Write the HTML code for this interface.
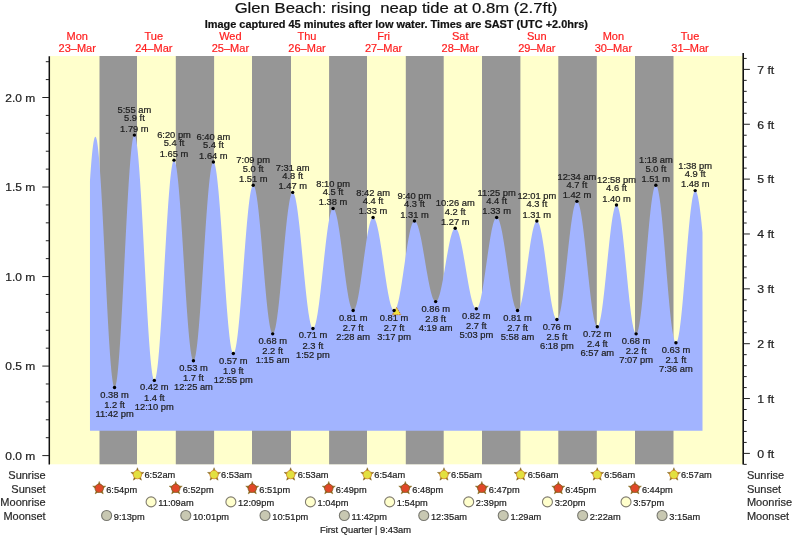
<!DOCTYPE html><html><head><meta charset="utf-8"><style>html,body{margin:0;padding:0;background:#fff;overflow:hidden}svg{display:block;will-change:transform}text{font-family:"Liberation Sans",sans-serif;white-space:pre}</style></head><body>
<svg width="793" height="537" viewBox="0 0 793 537">
<text transform="translate(396.00,13.10) scale(1.113,1)" text-anchor="middle" font-size="15" font-weight="normal" fill="#111" stroke="#111" stroke-width="0.2" >Glen Beach: rising  neap tide at 0.8m (2.7ft)</text>
<text transform="translate(396.30,27.50) scale(1.062,1)" text-anchor="middle" font-size="10.3" font-weight="bold" fill="#111" stroke="#111" stroke-width="0.2" >Image captured 45 minutes after low water. Times are SAST (UTC +2.0hrs)</text>
<text transform="translate(77.20,39.70) scale(1.05,1)" text-anchor="middle" font-size="10.5" font-weight="normal" fill="#FF1E1E" stroke="#FF1E1E" stroke-width="0.2" >Mon</text>
<text transform="translate(77.20,51.50) scale(1.05,1)" text-anchor="middle" font-size="10.5" font-weight="normal" fill="#FF1E1E" stroke="#FF1E1E" stroke-width="0.2" >23–Mar</text>
<text transform="translate(153.80,39.70) scale(1.05,1)" text-anchor="middle" font-size="10.5" font-weight="normal" fill="#FF1E1E" stroke="#FF1E1E" stroke-width="0.2" >Tue</text>
<text transform="translate(153.80,51.50) scale(1.05,1)" text-anchor="middle" font-size="10.5" font-weight="normal" fill="#FF1E1E" stroke="#FF1E1E" stroke-width="0.2" >24–Mar</text>
<text transform="translate(230.40,39.70) scale(1.05,1)" text-anchor="middle" font-size="10.5" font-weight="normal" fill="#FF1E1E" stroke="#FF1E1E" stroke-width="0.2" >Wed</text>
<text transform="translate(230.40,51.50) scale(1.05,1)" text-anchor="middle" font-size="10.5" font-weight="normal" fill="#FF1E1E" stroke="#FF1E1E" stroke-width="0.2" >25–Mar</text>
<text transform="translate(307.00,39.70) scale(1.05,1)" text-anchor="middle" font-size="10.5" font-weight="normal" fill="#FF1E1E" stroke="#FF1E1E" stroke-width="0.2" >Thu</text>
<text transform="translate(307.00,51.50) scale(1.05,1)" text-anchor="middle" font-size="10.5" font-weight="normal" fill="#FF1E1E" stroke="#FF1E1E" stroke-width="0.2" >26–Mar</text>
<text transform="translate(383.60,39.70) scale(1.05,1)" text-anchor="middle" font-size="10.5" font-weight="normal" fill="#FF1E1E" stroke="#FF1E1E" stroke-width="0.2" >Fri</text>
<text transform="translate(383.60,51.50) scale(1.05,1)" text-anchor="middle" font-size="10.5" font-weight="normal" fill="#FF1E1E" stroke="#FF1E1E" stroke-width="0.2" >27–Mar</text>
<text transform="translate(460.20,39.70) scale(1.05,1)" text-anchor="middle" font-size="10.5" font-weight="normal" fill="#FF1E1E" stroke="#FF1E1E" stroke-width="0.2" >Sat</text>
<text transform="translate(460.20,51.50) scale(1.05,1)" text-anchor="middle" font-size="10.5" font-weight="normal" fill="#FF1E1E" stroke="#FF1E1E" stroke-width="0.2" >28–Mar</text>
<text transform="translate(536.80,39.70) scale(1.05,1)" text-anchor="middle" font-size="10.5" font-weight="normal" fill="#FF1E1E" stroke="#FF1E1E" stroke-width="0.2" >Sun</text>
<text transform="translate(536.80,51.50) scale(1.05,1)" text-anchor="middle" font-size="10.5" font-weight="normal" fill="#FF1E1E" stroke="#FF1E1E" stroke-width="0.2" >29–Mar</text>
<text transform="translate(613.40,39.70) scale(1.05,1)" text-anchor="middle" font-size="10.5" font-weight="normal" fill="#FF1E1E" stroke="#FF1E1E" stroke-width="0.2" >Mon</text>
<text transform="translate(613.40,51.50) scale(1.05,1)" text-anchor="middle" font-size="10.5" font-weight="normal" fill="#FF1E1E" stroke="#FF1E1E" stroke-width="0.2" >30–Mar</text>
<text transform="translate(690.00,39.70) scale(1.05,1)" text-anchor="middle" font-size="10.5" font-weight="normal" fill="#FF1E1E" stroke="#FF1E1E" stroke-width="0.2" >Tue</text>
<text transform="translate(690.00,51.50) scale(1.05,1)" text-anchor="middle" font-size="10.5" font-weight="normal" fill="#FF1E1E" stroke="#FF1E1E" stroke-width="0.2" >31–Mar</text>
<rect x="50.0" y="56.0" width="693.0" height="408.3" fill="#FFFFCC"/>
<rect x="99.5" y="56.0" width="37.5" height="408.3" fill="#969696"/>
<rect x="175.8" y="56.0" width="38.3" height="408.3" fill="#969696"/>
<rect x="252.0" y="56.0" width="39.0" height="408.3" fill="#969696"/>
<rect x="329.1" y="56.0" width="37.9" height="408.3" fill="#969696"/>
<rect x="405.8" y="56.0" width="37.9" height="408.3" fill="#969696"/>
<rect x="482.0" y="56.0" width="38.4" height="408.3" fill="#969696"/>
<rect x="558.3" y="56.0" width="38.5" height="408.3" fill="#969696"/>
<rect x="635.0" y="56.0" width="38.5" height="408.3" fill="#969696"/>
<path d="M89.97,430.70 L89.97,180.40 L90.47,173.11 L90.97,166.38 L91.47,160.26 L91.97,154.78 L92.47,149.98 L92.97,145.88 L93.47,142.52 L93.97,139.91 L94.47,138.06 L94.97,137.00 L95.47,136.72 L95.97,137.27 L96.47,138.65 L96.97,140.87 L97.47,143.90 L97.97,147.73 L98.47,152.33 L98.97,157.66 L99.47,163.70 L99.97,170.40 L100.47,177.72 L100.97,185.60 L101.47,194.00 L101.97,202.85 L102.47,212.11 L102.97,221.70 L103.47,231.57 L103.97,241.64 L104.47,251.84 L104.97,262.12 L105.47,272.40 L105.97,282.60 L106.47,292.67 L106.97,302.54 L107.47,312.13 L107.97,321.39 L108.47,330.25 L108.97,338.65 L109.47,346.53 L109.97,353.85 L110.47,360.55 L110.97,366.59 L111.47,371.93 L111.97,376.53 L112.47,380.36 L112.97,383.39 L113.47,385.61 L113.97,387.00 L114.47,387.55 L114.97,387.28 L115.47,386.21 L115.97,384.37 L116.47,381.75 L116.97,378.38 L117.47,374.27 L117.97,369.46 L118.47,363.97 L118.97,357.84 L119.47,351.10 L119.97,343.80 L120.47,335.98 L120.97,327.70 L121.47,319.00 L121.97,309.94 L122.47,300.57 L122.97,290.96 L123.47,281.17 L123.97,271.25 L124.47,261.26 L124.97,251.28 L125.47,241.36 L125.97,231.57 L126.47,221.96 L126.97,212.60 L127.47,203.54 L127.97,194.85 L128.47,186.57 L128.97,178.76 L129.47,171.47 L129.97,164.74 L130.47,158.61 L130.97,153.13 L131.47,148.33 L131.97,144.23 L132.47,140.87 L132.97,138.27 L133.47,136.43 L133.97,135.38 L134.47,135.11 L134.97,135.62 L135.47,136.88 L135.97,138.89 L136.47,141.64 L136.97,145.11 L137.47,149.27 L137.97,154.11 L138.47,159.59 L138.97,165.68 L139.47,172.34 L139.97,179.53 L140.47,187.20 L140.97,195.31 L141.47,203.81 L141.97,212.64 L142.47,221.75 L142.97,231.09 L143.47,240.59 L143.97,250.20 L144.47,259.85 L144.97,269.49 L145.47,279.06 L145.97,288.49 L146.47,297.74 L146.97,306.73 L147.47,315.43 L147.97,323.76 L148.47,331.69 L148.97,339.16 L149.47,346.12 L149.97,352.54 L150.47,358.37 L150.97,363.57 L151.47,368.12 L151.97,371.99 L152.47,375.14 L152.97,377.57 L153.47,379.26 L153.97,380.20 L154.47,380.37 L154.97,379.83 L155.47,378.60 L155.97,376.67 L156.47,374.07 L156.97,370.80 L157.47,366.90 L157.97,362.38 L158.47,357.28 L158.97,351.62 L159.47,345.44 L159.97,338.78 L160.47,331.69 L160.97,324.21 L161.47,316.38 L161.97,308.26 L162.47,299.90 L162.97,291.35 L163.47,282.67 L163.97,273.91 L164.47,265.12 L164.97,256.37 L165.47,247.70 L165.97,239.18 L166.47,230.86 L166.97,222.79 L167.47,215.02 L167.97,207.60 L168.47,200.59 L168.97,194.01 L169.47,187.92 L169.97,182.36 L170.47,177.35 L170.97,172.94 L171.47,169.14 L171.97,165.99 L172.47,163.51 L172.97,161.70 L173.47,160.59 L173.97,160.17 L174.47,160.44 L174.97,161.36 L175.47,162.92 L175.97,165.13 L176.47,167.96 L176.97,171.40 L177.47,175.41 L177.97,179.99 L178.47,185.09 L178.97,190.68 L179.47,196.73 L179.97,203.19 L180.47,210.03 L180.97,217.20 L181.47,224.65 L181.97,232.34 L182.47,240.21 L182.97,248.21 L183.47,256.30 L183.97,264.41 L184.47,272.49 L184.97,280.49 L185.47,288.37 L185.97,296.06 L186.47,303.52 L186.97,310.69 L187.47,317.54 L187.97,324.01 L188.47,330.07 L188.97,335.67 L189.47,340.78 L189.97,345.37 L190.47,349.40 L190.97,352.84 L191.47,355.69 L191.97,357.91 L192.47,359.49 L192.97,360.42 L193.47,360.70 L193.97,360.35 L194.47,359.38 L194.97,357.81 L195.47,355.63 L195.97,352.88 L196.47,349.55 L196.97,345.68 L197.47,341.29 L197.97,336.40 L198.47,331.04 L198.97,325.26 L199.47,319.07 L199.97,312.53 L200.47,305.68 L200.97,298.54 L201.47,291.18 L201.97,283.63 L202.47,275.94 L202.97,268.17 L203.47,260.35 L203.97,252.53 L204.47,244.77 L204.97,237.12 L205.47,229.61 L205.97,222.30 L206.47,215.23 L206.97,208.45 L207.47,202.00 L207.97,195.91 L208.47,190.23 L208.97,184.99 L209.47,180.22 L209.97,175.96 L210.47,172.22 L210.97,169.04 L211.47,166.43 L211.97,164.40 L212.47,162.98 L212.97,162.17 L213.47,161.97 L213.97,162.37 L214.47,163.36 L214.97,164.94 L215.47,167.10 L215.97,169.81 L216.47,173.07 L216.97,176.86 L217.47,181.14 L217.97,185.90 L218.47,191.11 L218.97,196.73 L219.47,202.73 L219.97,209.07 L220.47,215.71 L220.97,222.61 L221.47,229.73 L221.97,237.02 L222.47,244.44 L222.97,251.94 L223.47,259.48 L223.97,267.01 L224.47,274.48 L224.97,281.85 L225.47,289.07 L225.97,296.09 L226.47,302.88 L226.97,309.39 L227.47,315.57 L227.97,321.40 L228.47,326.84 L228.97,331.84 L229.47,336.39 L229.97,340.45 L230.47,343.99 L230.97,347.01 L231.47,349.47 L231.97,351.36 L232.47,352.67 L232.97,353.39 L233.47,353.52 L233.97,353.11 L234.47,352.18 L234.97,350.73 L235.47,348.78 L235.97,346.33 L236.47,343.40 L236.97,340.01 L237.47,336.18 L237.97,331.94 L238.47,327.30 L238.97,322.30 L239.47,316.98 L239.97,311.36 L240.47,305.47 L240.97,299.36 L241.47,293.07 L241.97,286.63 L242.47,280.07 L242.97,273.46 L243.47,266.82 L243.97,260.19 L244.47,253.62 L244.97,247.15 L245.47,240.82 L245.97,234.66 L246.47,228.73 L246.97,223.04 L247.47,217.64 L247.97,212.57 L248.47,207.85 L248.97,203.52 L249.47,199.59 L249.97,196.10 L250.47,193.07 L250.97,190.51 L251.47,188.44 L251.97,186.88 L252.47,185.83 L252.97,185.30 L253.47,185.29 L253.97,185.77 L254.47,186.73 L254.97,188.16 L255.47,190.06 L255.97,192.41 L256.47,195.20 L256.97,198.40 L257.47,202.01 L257.97,205.98 L258.47,210.31 L258.97,214.95 L259.47,219.89 L259.97,225.08 L260.47,230.50 L260.97,236.11 L261.47,241.87 L261.97,247.74 L262.47,253.69 L262.97,259.68 L263.47,265.67 L263.97,271.62 L264.47,277.49 L264.97,283.24 L265.47,288.84 L265.97,294.25 L266.47,299.43 L266.97,304.35 L267.47,308.98 L267.97,313.29 L268.47,317.25 L268.97,320.84 L269.47,324.02 L269.97,326.79 L270.47,329.12 L270.97,330.99 L271.47,332.40 L271.97,333.34 L272.47,333.80 L272.97,333.78 L273.47,333.32 L273.97,332.43 L274.47,331.11 L274.97,329.37 L275.47,327.22 L275.97,324.68 L276.47,321.76 L276.97,318.48 L277.47,314.85 L277.97,310.91 L278.47,306.67 L278.97,302.17 L279.47,297.42 L279.97,292.46 L280.47,287.32 L280.97,282.03 L281.47,276.63 L281.97,271.14 L282.47,265.60 L282.97,260.05 L283.47,254.52 L283.97,249.04 L284.47,243.64 L284.97,238.37 L285.47,233.25 L285.97,228.31 L286.47,223.59 L286.97,219.11 L287.47,214.90 L287.97,210.99 L288.47,207.40 L288.97,204.15 L289.47,201.27 L289.97,198.77 L290.47,196.67 L290.97,194.97 L291.47,193.70 L291.97,192.85 L292.47,192.44 L292.97,192.46 L293.47,192.89 L293.97,193.72 L294.47,194.96 L294.97,196.59 L295.47,198.60 L295.97,200.98 L296.47,203.72 L296.97,206.80 L297.47,210.21 L297.97,213.91 L298.47,217.89 L298.97,222.13 L299.47,226.60 L299.97,231.27 L300.47,236.12 L300.97,241.11 L301.47,246.22 L301.97,251.42 L302.47,256.67 L302.97,261.94 L303.47,267.20 L303.97,272.42 L304.47,277.57 L304.97,282.62 L305.47,287.53 L305.97,292.28 L306.47,296.84 L306.97,301.18 L307.47,305.28 L307.97,309.11 L308.47,312.64 L308.97,315.86 L309.47,318.75 L309.97,321.29 L310.47,323.46 L310.97,325.26 L311.47,326.67 L311.97,327.67 L312.47,328.28 L312.97,328.47 L313.47,328.29 L313.97,327.73 L314.47,326.82 L314.97,325.54 L315.47,323.92 L315.97,321.97 L316.47,319.68 L316.97,317.09 L317.47,314.20 L317.97,311.03 L318.47,307.59 L318.97,303.93 L319.47,300.04 L319.97,295.96 L320.47,291.72 L320.97,287.33 L321.47,282.83 L321.97,278.24 L322.47,273.59 L322.97,268.91 L323.47,264.23 L323.97,259.57 L324.47,254.97 L324.97,250.45 L325.47,246.04 L325.97,241.77 L326.47,237.66 L326.97,233.74 L327.47,230.03 L327.97,226.56 L328.47,223.34 L328.97,220.39 L329.47,217.74 L329.97,215.40 L330.47,213.39 L330.97,211.71 L331.47,210.37 L331.97,209.39 L332.47,208.77 L332.97,208.52 L333.47,208.61 L333.97,209.02 L334.47,209.73 L334.97,210.75 L335.47,212.06 L335.97,213.66 L336.47,215.55 L336.97,217.70 L337.47,220.11 L337.97,222.76 L338.47,225.63 L338.97,228.71 L339.47,231.98 L339.97,235.41 L340.47,238.99 L340.97,242.70 L341.47,246.51 L341.97,250.40 L342.47,254.35 L342.97,258.33 L343.47,262.31 L343.97,266.28 L344.47,270.21 L344.97,274.07 L345.47,277.84 L345.97,281.50 L346.47,285.03 L346.97,288.40 L347.47,291.60 L347.97,294.60 L348.47,297.39 L348.97,299.94 L349.47,302.25 L349.97,304.30 L350.47,306.08 L350.97,307.57 L351.47,308.77 L351.97,309.67 L352.47,310.26 L352.97,310.54 L353.47,310.52 L353.97,310.20 L354.47,309.60 L354.97,308.71 L355.47,307.55 L355.97,306.11 L356.47,304.41 L356.97,302.46 L357.47,300.27 L357.97,297.86 L358.47,295.23 L358.97,292.41 L359.47,289.41 L359.97,286.25 L360.47,282.96 L360.97,279.54 L361.47,276.03 L361.97,272.45 L362.47,268.81 L362.97,265.14 L363.47,261.47 L363.97,257.81 L364.47,254.19 L364.97,250.63 L365.47,247.16 L365.97,243.79 L366.47,240.54 L366.97,237.45 L367.47,234.51 L367.97,231.77 L368.47,229.22 L368.97,226.89 L369.47,224.79 L369.97,222.93 L370.47,221.33 L370.97,220.00 L371.47,218.94 L371.97,218.17 L372.47,217.67 L372.97,217.47 L373.47,217.55 L373.97,217.88 L374.47,218.48 L374.97,219.33 L375.47,220.43 L375.97,221.77 L376.47,223.35 L376.97,225.15 L377.47,227.18 L377.97,229.40 L378.47,231.83 L378.97,234.43 L379.47,237.19 L379.97,240.11 L380.47,243.16 L380.97,246.33 L381.47,249.59 L381.97,252.94 L382.47,256.35 L382.97,259.80 L383.47,263.27 L383.97,266.75 L384.47,270.22 L384.97,273.64 L385.47,277.02 L385.97,280.32 L386.47,283.53 L386.97,286.63 L387.47,289.61 L387.97,292.44 L388.47,295.12 L388.97,297.62 L389.47,299.93 L389.97,302.04 L390.47,303.94 L390.97,305.62 L391.47,307.06 L391.97,308.27 L392.47,309.22 L392.97,309.93 L393.47,310.37 L393.97,310.56 L394.47,310.49 L394.97,310.15 L395.47,309.55 L395.97,308.69 L396.47,307.57 L396.97,306.21 L397.47,304.60 L397.97,302.77 L398.47,300.71 L398.97,298.45 L399.47,295.99 L399.97,293.36 L400.47,290.56 L400.97,287.61 L401.47,284.53 L401.97,281.35 L402.47,278.07 L402.97,274.72 L403.47,271.31 L403.97,267.87 L404.47,264.42 L404.97,260.98 L405.47,257.57 L405.97,254.20 L406.47,250.91 L406.97,247.70 L407.47,244.60 L407.97,241.63 L408.47,238.80 L408.97,236.13 L409.47,233.64 L409.97,231.33 L410.47,229.24 L410.97,227.36 L411.47,225.71 L411.97,224.29 L412.47,223.13 L412.97,222.21 L413.47,221.56 L413.97,221.17 L414.47,221.04 L414.97,221.16 L415.47,221.50 L415.97,222.05 L416.47,222.82 L416.97,223.80 L417.47,224.99 L417.97,226.37 L418.47,227.95 L418.97,229.71 L419.47,231.64 L419.97,233.73 L420.47,235.98 L420.97,238.36 L421.47,240.87 L421.97,243.50 L422.47,246.22 L422.97,249.02 L423.47,251.89 L423.97,254.81 L424.47,257.77 L424.97,260.74 L425.47,263.72 L425.97,266.69 L426.47,269.63 L426.97,272.52 L427.47,275.35 L427.97,278.11 L428.47,280.77 L428.97,283.32 L429.47,285.76 L429.97,288.06 L430.47,290.22 L430.97,292.21 L431.47,294.04 L431.97,295.69 L432.47,297.15 L432.97,298.42 L433.47,299.48 L433.97,300.33 L434.47,300.97 L434.97,301.39 L435.47,301.60 L435.97,301.58 L436.47,301.32 L436.97,300.83 L437.47,300.11 L437.97,299.15 L438.47,297.98 L438.97,296.59 L439.47,295.00 L439.97,293.21 L440.47,291.24 L440.97,289.10 L441.47,286.81 L441.97,284.37 L442.47,281.80 L442.97,279.13 L443.47,276.36 L443.97,273.52 L444.47,270.63 L444.97,267.70 L445.47,264.75 L445.97,261.80 L446.47,258.87 L446.97,255.98 L447.47,253.14 L447.97,250.39 L448.47,247.72 L448.97,245.17 L449.47,242.75 L449.97,240.47 L450.47,238.35 L450.97,236.40 L451.47,234.63 L451.97,233.06 L452.47,231.70 L452.97,230.55 L453.47,229.62 L453.97,228.93 L454.47,228.46 L454.97,228.23 L455.47,228.24 L455.97,228.47 L456.47,228.92 L456.97,229.59 L457.47,230.48 L457.97,231.57 L458.47,232.87 L458.97,234.37 L459.47,236.05 L459.97,237.92 L460.47,239.95 L460.97,242.14 L461.47,244.48 L461.97,246.95 L462.47,249.54 L462.97,252.24 L463.47,255.02 L463.97,257.88 L464.47,260.80 L464.97,263.76 L465.47,266.74 L465.97,269.74 L466.47,272.73 L466.97,275.69 L467.47,278.62 L467.97,281.49 L468.47,284.29 L468.97,287.00 L469.47,289.60 L469.97,292.10 L470.47,294.46 L470.97,296.67 L471.47,298.74 L471.97,300.63 L472.47,302.35 L472.97,303.88 L473.47,305.21 L473.97,306.34 L474.47,307.26 L474.97,307.97 L475.47,308.46 L475.97,308.72 L476.47,308.77 L476.97,308.55 L477.47,308.06 L477.97,307.30 L478.47,306.28 L478.97,305.00 L479.47,303.47 L479.97,301.70 L480.47,299.70 L480.97,297.49 L481.47,295.06 L481.97,292.45 L482.47,289.66 L482.97,286.71 L483.47,283.62 L483.97,280.41 L484.47,277.09 L484.97,273.69 L485.47,270.23 L485.97,266.73 L486.47,263.20 L486.97,259.68 L487.47,256.17 L487.97,252.71 L488.47,249.30 L488.97,245.98 L489.47,242.77 L489.97,239.67 L490.47,236.72 L490.97,233.92 L491.47,231.30 L491.97,228.86 L492.47,226.63 L492.97,224.62 L493.47,222.84 L493.97,221.30 L494.47,220.01 L494.97,218.98 L495.47,218.21 L495.97,217.71 L496.47,217.48 L496.97,217.52 L497.47,217.82 L497.97,218.39 L498.47,219.21 L498.97,220.28 L499.47,221.61 L499.97,223.17 L500.47,224.96 L500.97,226.97 L501.47,229.19 L501.97,231.61 L502.47,234.21 L502.97,236.98 L503.47,239.90 L503.97,242.95 L504.47,246.13 L504.97,249.41 L505.47,252.77 L505.97,256.19 L506.47,259.66 L506.97,263.15 L507.47,266.64 L507.97,270.13 L508.47,273.57 L508.97,276.97 L509.47,280.29 L509.97,283.51 L510.47,286.63 L510.97,289.62 L511.47,292.47 L511.97,295.16 L512.47,297.67 L512.97,299.99 L513.47,302.10 L513.97,304.00 L514.47,305.68 L514.97,307.12 L515.47,308.32 L515.97,309.27 L516.47,309.96 L516.97,310.39 L517.47,310.57 L517.97,310.46 L518.47,310.07 L518.97,309.38 L519.47,308.40 L519.97,307.14 L520.47,305.60 L520.97,303.81 L521.47,301.76 L521.97,299.47 L522.47,296.96 L522.97,294.25 L523.47,291.34 L523.97,288.27 L524.47,285.05 L524.97,281.71 L525.47,278.25 L525.97,274.72 L526.47,271.12 L526.97,267.49 L527.47,263.85 L527.97,260.23 L528.47,256.64 L528.97,253.11 L529.47,249.66 L529.97,246.32 L530.47,243.11 L530.97,240.05 L531.47,237.16 L531.97,234.46 L532.47,231.97 L532.97,229.70 L533.47,227.67 L533.97,225.89 L534.47,224.38 L534.97,223.14 L535.47,222.18 L535.97,221.51 L536.47,221.13 L536.97,221.05 L537.47,221.27 L537.97,221.79 L538.47,222.61 L538.97,223.72 L539.47,225.11 L539.97,226.79 L540.47,228.72 L540.97,230.92 L541.47,233.35 L541.97,236.02 L542.47,238.89 L542.97,241.95 L543.47,245.19 L543.97,248.58 L544.47,252.11 L544.97,255.74 L545.47,259.47 L545.97,263.26 L546.47,267.09 L546.97,270.95 L547.47,274.80 L547.97,278.62 L548.47,282.39 L548.97,286.09 L549.47,289.69 L549.97,293.17 L550.47,296.51 L550.97,299.69 L551.47,302.69 L551.97,305.49 L552.47,308.08 L552.97,310.43 L553.47,312.54 L553.97,314.39 L554.47,315.97 L554.97,317.26 L555.47,318.27 L555.97,318.99 L556.47,319.40 L556.97,319.52 L557.47,319.29 L557.97,318.71 L558.47,317.76 L558.97,316.46 L559.47,314.81 L559.97,312.83 L560.47,310.53 L560.97,307.91 L561.47,305.01 L561.97,301.83 L562.47,298.39 L562.97,294.72 L563.47,290.84 L563.97,286.77 L564.47,282.54 L564.97,278.18 L565.47,273.70 L565.97,269.14 L566.47,264.53 L566.97,259.89 L567.47,255.26 L567.97,250.66 L568.47,246.11 L568.97,241.66 L569.47,237.32 L569.97,233.13 L570.47,229.10 L570.97,225.27 L571.47,221.65 L571.97,218.27 L572.47,215.16 L572.97,212.32 L573.47,209.78 L573.97,207.55 L574.47,205.64 L574.97,204.08 L575.47,202.86 L575.97,201.99 L576.47,201.49 L576.97,201.35 L577.47,201.58 L577.97,202.18 L578.47,203.15 L578.97,204.48 L579.47,206.16 L579.97,208.19 L580.47,210.55 L580.97,213.22 L581.47,216.20 L581.97,219.46 L582.47,222.99 L582.97,226.76 L583.47,230.75 L583.97,234.94 L584.47,239.30 L584.97,243.81 L585.47,248.44 L585.97,253.16 L586.47,257.95 L586.97,262.77 L587.47,267.60 L587.97,272.41 L588.47,277.17 L588.97,281.85 L589.47,286.42 L589.97,290.87 L590.47,295.15 L590.97,299.24 L591.47,303.13 L591.97,306.79 L592.47,310.19 L592.97,313.31 L593.47,316.15 L593.97,318.67 L594.47,320.87 L594.97,322.73 L595.47,324.24 L595.97,325.40 L596.47,326.19 L596.97,326.61 L597.47,326.66 L597.97,326.30 L598.47,325.54 L598.97,324.39 L599.47,322.84 L599.97,320.91 L600.47,318.61 L600.97,315.95 L601.47,312.97 L601.97,309.66 L602.47,306.07 L602.97,302.20 L603.47,298.09 L603.97,293.77 L604.47,289.26 L604.97,284.59 L605.47,279.79 L605.97,274.91 L606.47,269.96 L606.97,264.98 L607.47,260.01 L607.97,255.08 L608.47,250.22 L608.97,245.46 L609.47,240.84 L609.97,236.39 L610.47,232.13 L610.97,228.10 L611.47,224.32 L611.97,220.82 L612.47,217.62 L612.97,214.74 L613.47,212.20 L613.97,210.03 L614.47,208.22 L614.97,206.80 L615.47,205.77 L615.97,205.15 L616.47,204.93 L616.97,205.12 L617.47,205.72 L617.97,206.73 L618.47,208.14 L618.97,209.95 L619.47,212.13 L619.97,214.68 L620.47,217.58 L620.97,220.81 L621.47,224.35 L621.97,228.18 L622.47,232.28 L622.97,236.61 L623.47,241.15 L623.97,245.88 L624.47,250.75 L624.97,255.74 L625.47,260.82 L625.97,265.95 L626.47,271.11 L626.97,276.26 L627.47,281.36 L627.97,286.38 L628.47,291.30 L628.97,296.07 L629.47,300.68 L629.97,305.08 L630.47,309.26 L630.97,313.18 L631.47,316.82 L631.97,320.16 L632.47,323.17 L632.97,325.84 L633.47,328.15 L633.97,330.08 L634.47,331.62 L634.97,332.76 L635.47,333.50 L635.97,333.83 L636.47,333.73 L636.97,333.16 L637.47,332.13 L637.97,330.64 L638.47,328.70 L638.97,326.32 L639.47,323.51 L639.97,320.30 L640.47,316.71 L640.97,312.76 L641.47,308.46 L641.97,303.86 L642.47,298.98 L642.97,293.85 L643.47,288.50 L643.97,282.97 L644.47,277.29 L644.97,271.49 L645.47,265.62 L645.97,259.72 L646.47,253.81 L646.97,247.94 L647.47,242.14 L647.97,236.45 L648.47,230.91 L648.97,225.55 L649.47,220.40 L649.97,215.50 L650.47,210.88 L650.97,206.57 L651.47,202.60 L651.97,198.98 L652.47,195.75 L652.97,192.92 L653.47,190.51 L653.97,188.55 L654.47,187.03 L654.97,185.97 L655.47,185.37 L655.97,185.25 L656.47,185.60 L656.97,186.43 L657.47,187.74 L657.97,189.51 L658.47,191.73 L658.97,194.40 L659.47,197.49 L659.97,200.98 L660.47,204.86 L660.97,209.10 L661.47,213.68 L661.97,218.56 L662.47,223.72 L662.97,229.13 L663.47,234.75 L663.97,240.55 L664.47,246.49 L664.97,252.53 L665.47,258.65 L665.97,264.80 L666.47,270.95 L666.97,277.05 L667.47,283.07 L667.97,288.98 L668.47,294.74 L668.97,300.30 L669.47,305.65 L669.97,310.74 L670.47,315.55 L670.97,320.04 L671.47,324.20 L671.97,327.98 L672.47,331.37 L672.97,334.36 L673.47,336.91 L673.97,339.02 L674.47,340.67 L674.97,341.86 L675.47,342.57 L675.97,342.80 L676.47,342.54 L676.97,341.77 L677.47,340.50 L677.97,338.74 L678.47,336.51 L678.97,333.81 L679.47,330.66 L679.97,327.09 L680.47,323.11 L680.97,318.76 L681.47,314.07 L681.97,309.06 L682.47,303.77 L682.97,298.23 L683.47,292.48 L683.97,286.56 L684.47,280.51 L684.97,274.36 L685.47,268.17 L685.97,261.97 L686.47,255.79 L686.97,249.69 L687.47,243.71 L687.97,237.87 L688.47,232.23 L688.97,226.82 L689.47,221.67 L689.97,216.82 L690.47,212.30 L690.97,208.15 L691.47,204.38 L691.97,201.03 L692.47,198.12 L692.97,195.66 L693.47,193.67 L693.97,192.17 L694.47,191.17 L694.97,190.67 L695.47,190.66 L695.97,191.10 L696.47,191.97 L696.97,193.27 L697.47,194.99 L697.97,197.12 L698.47,199.66 L698.97,202.57 L699.47,205.86 L699.97,209.50 L700.47,213.47 L700.97,217.74 L701.47,222.31 L701.97,227.13 L702.47,232.19 L702.50,232.54 L702.50,430.70 Z" fill="#A2B4FF"/>
<polygon points="396.6,307.4 392.4,314.7 400.9,314.7" fill="#EEE040" stroke="#C86A20" stroke-width="0.9" stroke-dasharray="1.2,0.9"/>
<circle cx="114.54" cy="387.56" r="1.7" fill="#000"/>
<text transform="translate(114.54,397.56) scale(1.1,1)" text-anchor="middle" font-size="8.5" font-weight="normal" fill="#1e1e1e" stroke="#1e1e1e" stroke-width="0.2" >0.38 m</text>
<text transform="translate(114.54,407.66) scale(1.1,1)" text-anchor="middle" font-size="8.5" font-weight="normal" fill="#1e1e1e" stroke="#1e1e1e" stroke-width="0.2" >1.2 ft</text>
<text transform="translate(114.54,416.86) scale(1.1,1)" text-anchor="middle" font-size="8.5" font-weight="normal" fill="#1e1e1e" stroke="#1e1e1e" stroke-width="0.2" >11:42 pm</text>
<circle cx="134.38" cy="135.10" r="1.7" fill="#000"/>
<text transform="translate(134.38,131.70) scale(1.1,1)" text-anchor="middle" font-size="8.5" font-weight="normal" fill="#1e1e1e" stroke="#1e1e1e" stroke-width="0.2" >1.79 m</text>
<text transform="translate(134.38,121.40) scale(1.1,1)" text-anchor="middle" font-size="8.5" font-weight="normal" fill="#1e1e1e" stroke="#1e1e1e" stroke-width="0.2" >5.9 ft</text>
<text transform="translate(134.38,113.30) scale(1.1,1)" text-anchor="middle" font-size="8.5" font-weight="normal" fill="#1e1e1e" stroke="#1e1e1e" stroke-width="0.2" >5:55 am</text>
<circle cx="154.33" cy="380.40" r="1.7" fill="#000"/>
<text transform="translate(154.33,390.40) scale(1.1,1)" text-anchor="middle" font-size="8.5" font-weight="normal" fill="#1e1e1e" stroke="#1e1e1e" stroke-width="0.2" >0.42 m</text>
<text transform="translate(154.33,400.50) scale(1.1,1)" text-anchor="middle" font-size="8.5" font-weight="normal" fill="#1e1e1e" stroke="#1e1e1e" stroke-width="0.2" >1.4 ft</text>
<text transform="translate(154.33,409.70) scale(1.1,1)" text-anchor="middle" font-size="8.5" font-weight="normal" fill="#1e1e1e" stroke="#1e1e1e" stroke-width="0.2" >12:10 pm</text>
<circle cx="174.01" cy="160.17" r="1.7" fill="#000"/>
<text transform="translate(174.01,156.77) scale(1.1,1)" text-anchor="middle" font-size="8.5" font-weight="normal" fill="#1e1e1e" stroke="#1e1e1e" stroke-width="0.2" >1.65 m</text>
<text transform="translate(174.01,146.47) scale(1.1,1)" text-anchor="middle" font-size="8.5" font-weight="normal" fill="#1e1e1e" stroke="#1e1e1e" stroke-width="0.2" >5.4 ft</text>
<text transform="translate(174.01,138.37) scale(1.1,1)" text-anchor="middle" font-size="8.5" font-weight="normal" fill="#1e1e1e" stroke="#1e1e1e" stroke-width="0.2" >6:20 pm</text>
<circle cx="193.43" cy="360.70" r="1.7" fill="#000"/>
<text transform="translate(193.43,370.70) scale(1.1,1)" text-anchor="middle" font-size="8.5" font-weight="normal" fill="#1e1e1e" stroke="#1e1e1e" stroke-width="0.2" >0.53 m</text>
<text transform="translate(193.43,380.80) scale(1.1,1)" text-anchor="middle" font-size="8.5" font-weight="normal" fill="#1e1e1e" stroke="#1e1e1e" stroke-width="0.2" >1.7 ft</text>
<text transform="translate(193.43,390.00) scale(1.1,1)" text-anchor="middle" font-size="8.5" font-weight="normal" fill="#1e1e1e" stroke="#1e1e1e" stroke-width="0.2" >12:25 am</text>
<circle cx="213.38" cy="161.96" r="1.7" fill="#000"/>
<text transform="translate(213.38,158.56) scale(1.1,1)" text-anchor="middle" font-size="8.5" font-weight="normal" fill="#1e1e1e" stroke="#1e1e1e" stroke-width="0.2" >1.64 m</text>
<text transform="translate(213.38,148.26) scale(1.1,1)" text-anchor="middle" font-size="8.5" font-weight="normal" fill="#1e1e1e" stroke="#1e1e1e" stroke-width="0.2" >5.4 ft</text>
<text transform="translate(213.38,140.16) scale(1.1,1)" text-anchor="middle" font-size="8.5" font-weight="normal" fill="#1e1e1e" stroke="#1e1e1e" stroke-width="0.2" >6:40 am</text>
<circle cx="233.33" cy="353.54" r="1.7" fill="#000"/>
<text transform="translate(233.33,363.54) scale(1.1,1)" text-anchor="middle" font-size="8.5" font-weight="normal" fill="#1e1e1e" stroke="#1e1e1e" stroke-width="0.2" >0.57 m</text>
<text transform="translate(233.33,373.64) scale(1.1,1)" text-anchor="middle" font-size="8.5" font-weight="normal" fill="#1e1e1e" stroke="#1e1e1e" stroke-width="0.2" >1.9 ft</text>
<text transform="translate(233.33,382.84) scale(1.1,1)" text-anchor="middle" font-size="8.5" font-weight="normal" fill="#1e1e1e" stroke="#1e1e1e" stroke-width="0.2" >12:55 pm</text>
<circle cx="253.22" cy="185.23" r="1.7" fill="#000"/>
<text transform="translate(253.22,181.83) scale(1.1,1)" text-anchor="middle" font-size="8.5" font-weight="normal" fill="#1e1e1e" stroke="#1e1e1e" stroke-width="0.2" >1.51 m</text>
<text transform="translate(253.22,171.53) scale(1.1,1)" text-anchor="middle" font-size="8.5" font-weight="normal" fill="#1e1e1e" stroke="#1e1e1e" stroke-width="0.2" >5.0 ft</text>
<text transform="translate(253.22,163.43) scale(1.1,1)" text-anchor="middle" font-size="8.5" font-weight="normal" fill="#1e1e1e" stroke="#1e1e1e" stroke-width="0.2" >7:09 pm</text>
<circle cx="272.69" cy="333.85" r="1.7" fill="#000"/>
<text transform="translate(272.69,343.85) scale(1.1,1)" text-anchor="middle" font-size="8.5" font-weight="normal" fill="#1e1e1e" stroke="#1e1e1e" stroke-width="0.2" >0.68 m</text>
<text transform="translate(272.69,353.95) scale(1.1,1)" text-anchor="middle" font-size="8.5" font-weight="normal" fill="#1e1e1e" stroke="#1e1e1e" stroke-width="0.2" >2.2 ft</text>
<text transform="translate(272.69,363.15) scale(1.1,1)" text-anchor="middle" font-size="8.5" font-weight="normal" fill="#1e1e1e" stroke="#1e1e1e" stroke-width="0.2" >1:15 am</text>
<circle cx="292.69" cy="192.40" r="1.7" fill="#000"/>
<text transform="translate(292.69,189.00) scale(1.1,1)" text-anchor="middle" font-size="8.5" font-weight="normal" fill="#1e1e1e" stroke="#1e1e1e" stroke-width="0.2" >1.47 m</text>
<text transform="translate(292.69,178.70) scale(1.1,1)" text-anchor="middle" font-size="8.5" font-weight="normal" fill="#1e1e1e" stroke="#1e1e1e" stroke-width="0.2" >4.8 ft</text>
<text transform="translate(292.69,170.60) scale(1.1,1)" text-anchor="middle" font-size="8.5" font-weight="normal" fill="#1e1e1e" stroke="#1e1e1e" stroke-width="0.2" >7:31 am</text>
<circle cx="312.96" cy="328.47" r="1.7" fill="#000"/>
<text transform="translate(312.96,338.47) scale(1.1,1)" text-anchor="middle" font-size="8.5" font-weight="normal" fill="#1e1e1e" stroke="#1e1e1e" stroke-width="0.2" >0.71 m</text>
<text transform="translate(312.96,348.57) scale(1.1,1)" text-anchor="middle" font-size="8.5" font-weight="normal" fill="#1e1e1e" stroke="#1e1e1e" stroke-width="0.2" >2.3 ft</text>
<text transform="translate(312.96,357.77) scale(1.1,1)" text-anchor="middle" font-size="8.5" font-weight="normal" fill="#1e1e1e" stroke="#1e1e1e" stroke-width="0.2" >1:52 pm</text>
<circle cx="333.07" cy="208.51" r="1.7" fill="#000"/>
<text transform="translate(333.07,205.11) scale(1.1,1)" text-anchor="middle" font-size="8.5" font-weight="normal" fill="#1e1e1e" stroke="#1e1e1e" stroke-width="0.2" >1.38 m</text>
<text transform="translate(333.07,194.81) scale(1.1,1)" text-anchor="middle" font-size="8.5" font-weight="normal" fill="#1e1e1e" stroke="#1e1e1e" stroke-width="0.2" >4.5 ft</text>
<text transform="translate(333.07,186.71) scale(1.1,1)" text-anchor="middle" font-size="8.5" font-weight="normal" fill="#1e1e1e" stroke="#1e1e1e" stroke-width="0.2" >8:10 pm</text>
<circle cx="353.17" cy="310.57" r="1.7" fill="#000"/>
<text transform="translate(353.17,320.57) scale(1.1,1)" text-anchor="middle" font-size="8.5" font-weight="normal" fill="#1e1e1e" stroke="#1e1e1e" stroke-width="0.2" >0.81 m</text>
<text transform="translate(353.17,330.67) scale(1.1,1)" text-anchor="middle" font-size="8.5" font-weight="normal" fill="#1e1e1e" stroke="#1e1e1e" stroke-width="0.2" >2.7 ft</text>
<text transform="translate(353.17,339.87) scale(1.1,1)" text-anchor="middle" font-size="8.5" font-weight="normal" fill="#1e1e1e" stroke="#1e1e1e" stroke-width="0.2" >2:28 am</text>
<circle cx="373.07" cy="217.46" r="1.7" fill="#000"/>
<text transform="translate(373.07,214.06) scale(1.1,1)" text-anchor="middle" font-size="8.5" font-weight="normal" fill="#1e1e1e" stroke="#1e1e1e" stroke-width="0.2" >1.33 m</text>
<text transform="translate(373.07,203.76) scale(1.1,1)" text-anchor="middle" font-size="8.5" font-weight="normal" fill="#1e1e1e" stroke="#1e1e1e" stroke-width="0.2" >4.4 ft</text>
<text transform="translate(373.07,195.66) scale(1.1,1)" text-anchor="middle" font-size="8.5" font-weight="normal" fill="#1e1e1e" stroke="#1e1e1e" stroke-width="0.2" >8:42 am</text>
<circle cx="394.08" cy="310.57" r="1.7" fill="#000"/>
<text transform="translate(394.08,320.57) scale(1.1,1)" text-anchor="middle" font-size="8.5" font-weight="normal" fill="#1e1e1e" stroke="#1e1e1e" stroke-width="0.2" >0.81 m</text>
<text transform="translate(394.08,330.67) scale(1.1,1)" text-anchor="middle" font-size="8.5" font-weight="normal" fill="#1e1e1e" stroke="#1e1e1e" stroke-width="0.2" >2.7 ft</text>
<text transform="translate(394.08,339.87) scale(1.1,1)" text-anchor="middle" font-size="8.5" font-weight="normal" fill="#1e1e1e" stroke="#1e1e1e" stroke-width="0.2" >3:17 pm</text>
<circle cx="414.45" cy="221.04" r="1.7" fill="#000"/>
<text transform="translate(414.45,217.64) scale(1.1,1)" text-anchor="middle" font-size="8.5" font-weight="normal" fill="#1e1e1e" stroke="#1e1e1e" stroke-width="0.2" >1.31 m</text>
<text transform="translate(414.45,207.34) scale(1.1,1)" text-anchor="middle" font-size="8.5" font-weight="normal" fill="#1e1e1e" stroke="#1e1e1e" stroke-width="0.2" >4.3 ft</text>
<text transform="translate(414.45,199.24) scale(1.1,1)" text-anchor="middle" font-size="8.5" font-weight="normal" fill="#1e1e1e" stroke="#1e1e1e" stroke-width="0.2" >9:40 pm</text>
<circle cx="435.68" cy="301.62" r="1.7" fill="#000"/>
<text transform="translate(435.68,311.62) scale(1.1,1)" text-anchor="middle" font-size="8.5" font-weight="normal" fill="#1e1e1e" stroke="#1e1e1e" stroke-width="0.2" >0.86 m</text>
<text transform="translate(435.68,321.72) scale(1.1,1)" text-anchor="middle" font-size="8.5" font-weight="normal" fill="#1e1e1e" stroke="#1e1e1e" stroke-width="0.2" >2.8 ft</text>
<text transform="translate(435.68,330.92) scale(1.1,1)" text-anchor="middle" font-size="8.5" font-weight="normal" fill="#1e1e1e" stroke="#1e1e1e" stroke-width="0.2" >4:19 am</text>
<circle cx="455.20" cy="228.21" r="1.7" fill="#000"/>
<text transform="translate(455.20,224.81) scale(1.1,1)" text-anchor="middle" font-size="8.5" font-weight="normal" fill="#1e1e1e" stroke="#1e1e1e" stroke-width="0.2" >1.27 m</text>
<text transform="translate(455.20,214.51) scale(1.1,1)" text-anchor="middle" font-size="8.5" font-weight="normal" fill="#1e1e1e" stroke="#1e1e1e" stroke-width="0.2" >4.2 ft</text>
<text transform="translate(455.20,206.41) scale(1.1,1)" text-anchor="middle" font-size="8.5" font-weight="normal" fill="#1e1e1e" stroke="#1e1e1e" stroke-width="0.2" >10:26 am</text>
<circle cx="476.32" cy="308.78" r="1.7" fill="#000"/>
<text transform="translate(476.32,318.78) scale(1.1,1)" text-anchor="middle" font-size="8.5" font-weight="normal" fill="#1e1e1e" stroke="#1e1e1e" stroke-width="0.2" >0.82 m</text>
<text transform="translate(476.32,328.88) scale(1.1,1)" text-anchor="middle" font-size="8.5" font-weight="normal" fill="#1e1e1e" stroke="#1e1e1e" stroke-width="0.2" >2.7 ft</text>
<text transform="translate(476.32,338.08) scale(1.1,1)" text-anchor="middle" font-size="8.5" font-weight="normal" fill="#1e1e1e" stroke="#1e1e1e" stroke-width="0.2" >5:03 pm</text>
<circle cx="496.64" cy="217.46" r="1.7" fill="#000"/>
<text transform="translate(496.64,214.06) scale(1.1,1)" text-anchor="middle" font-size="8.5" font-weight="normal" fill="#1e1e1e" stroke="#1e1e1e" stroke-width="0.2" >1.33 m</text>
<text transform="translate(496.64,203.76) scale(1.1,1)" text-anchor="middle" font-size="8.5" font-weight="normal" fill="#1e1e1e" stroke="#1e1e1e" stroke-width="0.2" >4.4 ft</text>
<text transform="translate(496.64,195.66) scale(1.1,1)" text-anchor="middle" font-size="8.5" font-weight="normal" fill="#1e1e1e" stroke="#1e1e1e" stroke-width="0.2" >11:25 pm</text>
<circle cx="517.54" cy="310.57" r="1.7" fill="#000"/>
<text transform="translate(517.54,320.57) scale(1.1,1)" text-anchor="middle" font-size="8.5" font-weight="normal" fill="#1e1e1e" stroke="#1e1e1e" stroke-width="0.2" >0.81 m</text>
<text transform="translate(517.54,330.67) scale(1.1,1)" text-anchor="middle" font-size="8.5" font-weight="normal" fill="#1e1e1e" stroke="#1e1e1e" stroke-width="0.2" >2.7 ft</text>
<text transform="translate(517.54,339.87) scale(1.1,1)" text-anchor="middle" font-size="8.5" font-weight="normal" fill="#1e1e1e" stroke="#1e1e1e" stroke-width="0.2" >5:58 am</text>
<circle cx="536.85" cy="221.04" r="1.7" fill="#000"/>
<text transform="translate(536.85,217.64) scale(1.1,1)" text-anchor="middle" font-size="8.5" font-weight="normal" fill="#1e1e1e" stroke="#1e1e1e" stroke-width="0.2" >1.31 m</text>
<text transform="translate(536.85,207.34) scale(1.1,1)" text-anchor="middle" font-size="8.5" font-weight="normal" fill="#1e1e1e" stroke="#1e1e1e" stroke-width="0.2" >4.3 ft</text>
<text transform="translate(536.85,199.24) scale(1.1,1)" text-anchor="middle" font-size="8.5" font-weight="normal" fill="#1e1e1e" stroke="#1e1e1e" stroke-width="0.2" >12:01 pm</text>
<circle cx="556.91" cy="319.52" r="1.7" fill="#000"/>
<text transform="translate(556.91,329.52) scale(1.1,1)" text-anchor="middle" font-size="8.5" font-weight="normal" fill="#1e1e1e" stroke="#1e1e1e" stroke-width="0.2" >0.76 m</text>
<text transform="translate(556.91,339.62) scale(1.1,1)" text-anchor="middle" font-size="8.5" font-weight="normal" fill="#1e1e1e" stroke="#1e1e1e" stroke-width="0.2" >2.5 ft</text>
<text transform="translate(556.91,348.82) scale(1.1,1)" text-anchor="middle" font-size="8.5" font-weight="normal" fill="#1e1e1e" stroke="#1e1e1e" stroke-width="0.2" >6:18 pm</text>
<circle cx="576.91" cy="201.35" r="1.7" fill="#000"/>
<text transform="translate(576.91,197.95) scale(1.1,1)" text-anchor="middle" font-size="8.5" font-weight="normal" fill="#1e1e1e" stroke="#1e1e1e" stroke-width="0.2" >1.42 m</text>
<text transform="translate(576.91,187.65) scale(1.1,1)" text-anchor="middle" font-size="8.5" font-weight="normal" fill="#1e1e1e" stroke="#1e1e1e" stroke-width="0.2" >4.7 ft</text>
<text transform="translate(576.91,179.55) scale(1.1,1)" text-anchor="middle" font-size="8.5" font-weight="normal" fill="#1e1e1e" stroke="#1e1e1e" stroke-width="0.2" >12:34 am</text>
<circle cx="597.28" cy="326.68" r="1.7" fill="#000"/>
<text transform="translate(597.28,336.68) scale(1.1,1)" text-anchor="middle" font-size="8.5" font-weight="normal" fill="#1e1e1e" stroke="#1e1e1e" stroke-width="0.2" >0.72 m</text>
<text transform="translate(597.28,346.78) scale(1.1,1)" text-anchor="middle" font-size="8.5" font-weight="normal" fill="#1e1e1e" stroke="#1e1e1e" stroke-width="0.2" >2.4 ft</text>
<text transform="translate(597.28,355.98) scale(1.1,1)" text-anchor="middle" font-size="8.5" font-weight="normal" fill="#1e1e1e" stroke="#1e1e1e" stroke-width="0.2" >6:57 am</text>
<circle cx="616.49" cy="204.93" r="1.7" fill="#000"/>
<text transform="translate(616.49,201.53) scale(1.1,1)" text-anchor="middle" font-size="8.5" font-weight="normal" fill="#1e1e1e" stroke="#1e1e1e" stroke-width="0.2" >1.40 m</text>
<text transform="translate(616.49,191.23) scale(1.1,1)" text-anchor="middle" font-size="8.5" font-weight="normal" fill="#1e1e1e" stroke="#1e1e1e" stroke-width="0.2" >4.6 ft</text>
<text transform="translate(616.49,183.13) scale(1.1,1)" text-anchor="middle" font-size="8.5" font-weight="normal" fill="#1e1e1e" stroke="#1e1e1e" stroke-width="0.2" >12:58 pm</text>
<circle cx="636.11" cy="333.85" r="1.7" fill="#000"/>
<text transform="translate(636.11,343.85) scale(1.1,1)" text-anchor="middle" font-size="8.5" font-weight="normal" fill="#1e1e1e" stroke="#1e1e1e" stroke-width="0.2" >0.68 m</text>
<text transform="translate(636.11,353.95) scale(1.1,1)" text-anchor="middle" font-size="8.5" font-weight="normal" fill="#1e1e1e" stroke="#1e1e1e" stroke-width="0.2" >2.2 ft</text>
<text transform="translate(636.11,363.15) scale(1.1,1)" text-anchor="middle" font-size="8.5" font-weight="normal" fill="#1e1e1e" stroke="#1e1e1e" stroke-width="0.2" >7:07 pm</text>
<circle cx="655.85" cy="185.23" r="1.7" fill="#000"/>
<text transform="translate(655.85,181.83) scale(1.1,1)" text-anchor="middle" font-size="8.5" font-weight="normal" fill="#1e1e1e" stroke="#1e1e1e" stroke-width="0.2" >1.51 m</text>
<text transform="translate(655.85,171.53) scale(1.1,1)" text-anchor="middle" font-size="8.5" font-weight="normal" fill="#1e1e1e" stroke="#1e1e1e" stroke-width="0.2" >5.0 ft</text>
<text transform="translate(655.85,163.43) scale(1.1,1)" text-anchor="middle" font-size="8.5" font-weight="normal" fill="#1e1e1e" stroke="#1e1e1e" stroke-width="0.2" >1:18 am</text>
<circle cx="675.96" cy="342.80" r="1.7" fill="#000"/>
<text transform="translate(675.96,352.80) scale(1.1,1)" text-anchor="middle" font-size="8.5" font-weight="normal" fill="#1e1e1e" stroke="#1e1e1e" stroke-width="0.2" >0.63 m</text>
<text transform="translate(675.96,362.90) scale(1.1,1)" text-anchor="middle" font-size="8.5" font-weight="normal" fill="#1e1e1e" stroke="#1e1e1e" stroke-width="0.2" >2.1 ft</text>
<text transform="translate(675.96,372.10) scale(1.1,1)" text-anchor="middle" font-size="8.5" font-weight="normal" fill="#1e1e1e" stroke="#1e1e1e" stroke-width="0.2" >7:36 am</text>
<circle cx="695.21" cy="190.61" r="1.7" fill="#000"/>
<text transform="translate(695.21,187.21) scale(1.1,1)" text-anchor="middle" font-size="8.5" font-weight="normal" fill="#1e1e1e" stroke="#1e1e1e" stroke-width="0.2" >1.48 m</text>
<text transform="translate(695.21,176.91) scale(1.1,1)" text-anchor="middle" font-size="8.5" font-weight="normal" fill="#1e1e1e" stroke="#1e1e1e" stroke-width="0.2" >4.9 ft</text>
<text transform="translate(695.21,168.81) scale(1.1,1)" text-anchor="middle" font-size="8.5" font-weight="normal" fill="#1e1e1e" stroke="#1e1e1e" stroke-width="0.2" >1:38 pm</text>
<line x1="49.3" y1="56.2" x2="49.3" y2="464.4" stroke="#111" stroke-width="1.5"/>
<line x1="42.3" y1="455.60" x2="49" y2="455.60" stroke="#222" stroke-width="1"/>
<text transform="translate(35.30,459.90) scale(1.094,1)" text-anchor="end" font-size="11" font-weight="normal" fill="#222" stroke="#222" stroke-width="0.2" >0.0 m</text>
<line x1="45.8" y1="437.70" x2="49" y2="437.70" stroke="#222" stroke-width="1"/>
<line x1="45.8" y1="419.79" x2="49" y2="419.79" stroke="#222" stroke-width="1"/>
<line x1="45.8" y1="401.88" x2="49" y2="401.88" stroke="#222" stroke-width="1"/>
<line x1="45.8" y1="383.98" x2="49" y2="383.98" stroke="#222" stroke-width="1"/>
<line x1="42.3" y1="366.08" x2="49" y2="366.08" stroke="#222" stroke-width="1"/>
<text transform="translate(35.30,370.38) scale(1.094,1)" text-anchor="end" font-size="11" font-weight="normal" fill="#222" stroke="#222" stroke-width="0.2" >0.5 m</text>
<line x1="45.8" y1="348.17" x2="49" y2="348.17" stroke="#222" stroke-width="1"/>
<line x1="45.8" y1="330.27" x2="49" y2="330.27" stroke="#222" stroke-width="1"/>
<line x1="45.8" y1="312.36" x2="49" y2="312.36" stroke="#222" stroke-width="1"/>
<line x1="45.8" y1="294.46" x2="49" y2="294.46" stroke="#222" stroke-width="1"/>
<line x1="42.3" y1="276.55" x2="49" y2="276.55" stroke="#222" stroke-width="1"/>
<text transform="translate(35.30,280.85) scale(1.094,1)" text-anchor="end" font-size="11" font-weight="normal" fill="#222" stroke="#222" stroke-width="0.2" >1.0 m</text>
<line x1="45.8" y1="258.64" x2="49" y2="258.64" stroke="#222" stroke-width="1"/>
<line x1="45.8" y1="240.74" x2="49" y2="240.74" stroke="#222" stroke-width="1"/>
<line x1="45.8" y1="222.84" x2="49" y2="222.84" stroke="#222" stroke-width="1"/>
<line x1="45.8" y1="204.93" x2="49" y2="204.93" stroke="#222" stroke-width="1"/>
<line x1="42.3" y1="187.02" x2="49" y2="187.02" stroke="#222" stroke-width="1"/>
<text transform="translate(35.30,191.32) scale(1.094,1)" text-anchor="end" font-size="11" font-weight="normal" fill="#222" stroke="#222" stroke-width="0.2" >1.5 m</text>
<line x1="45.8" y1="169.12" x2="49" y2="169.12" stroke="#222" stroke-width="1"/>
<line x1="45.8" y1="151.22" x2="49" y2="151.22" stroke="#222" stroke-width="1"/>
<line x1="45.8" y1="133.31" x2="49" y2="133.31" stroke="#222" stroke-width="1"/>
<line x1="45.8" y1="115.41" x2="49" y2="115.41" stroke="#222" stroke-width="1"/>
<line x1="42.3" y1="97.50" x2="49" y2="97.50" stroke="#222" stroke-width="1"/>
<text transform="translate(35.30,101.80) scale(1.094,1)" text-anchor="end" font-size="11" font-weight="normal" fill="#222" stroke="#222" stroke-width="0.2" >2.0 m</text>
<line x1="45.8" y1="79.59" x2="49" y2="79.59" stroke="#222" stroke-width="1"/>
<line x1="45.8" y1="61.69" x2="49" y2="61.69" stroke="#222" stroke-width="1"/>
<line x1="743.2" y1="53.1" x2="743.2" y2="464.5" stroke="#111" stroke-width="1.6"/>
<line x1="743.5" y1="464.37" x2="746.7" y2="464.37" stroke="#222" stroke-width="1"/>
<line x1="743.5" y1="453.40" x2="749.9" y2="453.40" stroke="#222" stroke-width="1"/>
<text transform="translate(757.20,457.70) scale(1.12,1)" text-anchor="start" font-size="11" font-weight="normal" fill="#222" stroke="#222" stroke-width="0.2" >0 ft</text>
<line x1="743.5" y1="442.43" x2="746.7" y2="442.43" stroke="#222" stroke-width="1"/>
<line x1="743.5" y1="431.46" x2="746.7" y2="431.46" stroke="#222" stroke-width="1"/>
<line x1="743.5" y1="420.49" x2="746.7" y2="420.49" stroke="#222" stroke-width="1"/>
<line x1="743.5" y1="409.51" x2="746.7" y2="409.51" stroke="#222" stroke-width="1"/>
<line x1="743.5" y1="398.54" x2="749.9" y2="398.54" stroke="#222" stroke-width="1"/>
<text transform="translate(757.20,402.84) scale(1.12,1)" text-anchor="start" font-size="11" font-weight="normal" fill="#222" stroke="#222" stroke-width="0.2" >1 ft</text>
<line x1="743.5" y1="387.57" x2="746.7" y2="387.57" stroke="#222" stroke-width="1"/>
<line x1="743.5" y1="376.60" x2="746.7" y2="376.60" stroke="#222" stroke-width="1"/>
<line x1="743.5" y1="365.63" x2="746.7" y2="365.63" stroke="#222" stroke-width="1"/>
<line x1="743.5" y1="354.66" x2="746.7" y2="354.66" stroke="#222" stroke-width="1"/>
<line x1="743.5" y1="343.69" x2="749.9" y2="343.69" stroke="#222" stroke-width="1"/>
<text transform="translate(757.20,347.99) scale(1.12,1)" text-anchor="start" font-size="11" font-weight="normal" fill="#222" stroke="#222" stroke-width="0.2" >2 ft</text>
<line x1="743.5" y1="332.71" x2="746.7" y2="332.71" stroke="#222" stroke-width="1"/>
<line x1="743.5" y1="321.74" x2="746.7" y2="321.74" stroke="#222" stroke-width="1"/>
<line x1="743.5" y1="310.77" x2="746.7" y2="310.77" stroke="#222" stroke-width="1"/>
<line x1="743.5" y1="299.80" x2="746.7" y2="299.80" stroke="#222" stroke-width="1"/>
<line x1="743.5" y1="288.83" x2="749.9" y2="288.83" stroke="#222" stroke-width="1"/>
<text transform="translate(757.20,293.13) scale(1.12,1)" text-anchor="start" font-size="11" font-weight="normal" fill="#222" stroke="#222" stroke-width="0.2" >3 ft</text>
<line x1="743.5" y1="277.86" x2="746.7" y2="277.86" stroke="#222" stroke-width="1"/>
<line x1="743.5" y1="266.89" x2="746.7" y2="266.89" stroke="#222" stroke-width="1"/>
<line x1="743.5" y1="255.91" x2="746.7" y2="255.91" stroke="#222" stroke-width="1"/>
<line x1="743.5" y1="244.94" x2="746.7" y2="244.94" stroke="#222" stroke-width="1"/>
<line x1="743.5" y1="233.97" x2="749.9" y2="233.97" stroke="#222" stroke-width="1"/>
<text transform="translate(757.20,238.27) scale(1.12,1)" text-anchor="start" font-size="11" font-weight="normal" fill="#222" stroke="#222" stroke-width="0.2" >4 ft</text>
<line x1="743.5" y1="223.00" x2="746.7" y2="223.00" stroke="#222" stroke-width="1"/>
<line x1="743.5" y1="212.03" x2="746.7" y2="212.03" stroke="#222" stroke-width="1"/>
<line x1="743.5" y1="201.06" x2="746.7" y2="201.06" stroke="#222" stroke-width="1"/>
<line x1="743.5" y1="190.09" x2="746.7" y2="190.09" stroke="#222" stroke-width="1"/>
<line x1="743.5" y1="179.12" x2="749.9" y2="179.12" stroke="#222" stroke-width="1"/>
<text transform="translate(757.20,183.42) scale(1.12,1)" text-anchor="start" font-size="11" font-weight="normal" fill="#222" stroke="#222" stroke-width="0.2" >5 ft</text>
<line x1="743.5" y1="168.14" x2="746.7" y2="168.14" stroke="#222" stroke-width="1"/>
<line x1="743.5" y1="157.17" x2="746.7" y2="157.17" stroke="#222" stroke-width="1"/>
<line x1="743.5" y1="146.20" x2="746.7" y2="146.20" stroke="#222" stroke-width="1"/>
<line x1="743.5" y1="135.23" x2="746.7" y2="135.23" stroke="#222" stroke-width="1"/>
<line x1="743.5" y1="124.26" x2="749.9" y2="124.26" stroke="#222" stroke-width="1"/>
<text transform="translate(757.20,128.56) scale(1.12,1)" text-anchor="start" font-size="11" font-weight="normal" fill="#222" stroke="#222" stroke-width="0.2" >6 ft</text>
<line x1="743.5" y1="113.29" x2="746.7" y2="113.29" stroke="#222" stroke-width="1"/>
<line x1="743.5" y1="102.32" x2="746.7" y2="102.32" stroke="#222" stroke-width="1"/>
<line x1="743.5" y1="91.34" x2="746.7" y2="91.34" stroke="#222" stroke-width="1"/>
<line x1="743.5" y1="80.37" x2="746.7" y2="80.37" stroke="#222" stroke-width="1"/>
<line x1="743.5" y1="69.40" x2="749.9" y2="69.40" stroke="#222" stroke-width="1"/>
<text transform="translate(757.20,73.70) scale(1.12,1)" text-anchor="start" font-size="11" font-weight="normal" fill="#222" stroke="#222" stroke-width="0.2" >7 ft</text>
<line x1="743.5" y1="58.43" x2="746.7" y2="58.43" stroke="#222" stroke-width="1"/>
<text transform="translate(45.60,478.80) scale(1.02,1)" text-anchor="end" font-size="10.8" font-weight="normal" fill="#2a2a2a" stroke="#2a2a2a" stroke-width="0.2" >Sunrise</text>
<text transform="translate(746.90,478.80) scale(1.02,1)" text-anchor="start" font-size="10.8" font-weight="normal" fill="#2a2a2a" stroke="#2a2a2a" stroke-width="0.2" >Sunrise</text>
<text transform="translate(45.60,492.60) scale(1.02,1)" text-anchor="end" font-size="10.8" font-weight="normal" fill="#2a2a2a" stroke="#2a2a2a" stroke-width="0.2" >Sunset</text>
<text transform="translate(746.90,492.60) scale(1.02,1)" text-anchor="start" font-size="10.8" font-weight="normal" fill="#2a2a2a" stroke="#2a2a2a" stroke-width="0.2" >Sunset</text>
<text transform="translate(45.60,505.90) scale(1.02,1)" text-anchor="end" font-size="10.8" font-weight="normal" fill="#2a2a2a" stroke="#2a2a2a" stroke-width="0.2" >Moonrise</text>
<text transform="translate(746.90,505.90) scale(1.02,1)" text-anchor="start" font-size="10.8" font-weight="normal" fill="#2a2a2a" stroke="#2a2a2a" stroke-width="0.2" >Moonrise</text>
<text transform="translate(45.60,519.70) scale(1.02,1)" text-anchor="end" font-size="10.8" font-weight="normal" fill="#2a2a2a" stroke="#2a2a2a" stroke-width="0.2" >Moonset</text>
<text transform="translate(746.90,519.70) scale(1.02,1)" text-anchor="start" font-size="10.8" font-weight="normal" fill="#2a2a2a" stroke="#2a2a2a" stroke-width="0.2" >Moonset</text>
<polygon points="137.42,467.70 139.12,472.25 143.98,472.47 140.17,475.50 141.47,480.18 137.42,477.50 133.36,480.18 134.66,475.50 130.85,472.47 135.71,472.25" fill="#8E6A14" stroke="#7A5A12" stroke-width="0.4"/>
<circle cx="137.42" cy="474.60" r="4.2" fill="#E2E040" stroke="#D89030" stroke-width="0.9"/>
<text transform="translate(144.42,478.20) scale(1.03,1)" text-anchor="start" font-size="9.0" font-weight="normal" fill="#1e1e1e" stroke="#1e1e1e" stroke-width="0.2" >6:52am</text>
<polygon points="214.07,467.70 215.77,472.25 220.63,472.47 216.83,475.50 218.13,480.18 214.07,477.50 210.01,480.18 211.31,475.50 207.51,472.47 212.36,472.25" fill="#8E6A14" stroke="#7A5A12" stroke-width="0.4"/>
<circle cx="214.07" cy="474.60" r="4.2" fill="#E2E040" stroke="#D89030" stroke-width="0.9"/>
<text transform="translate(221.07,478.20) scale(1.03,1)" text-anchor="start" font-size="9.0" font-weight="normal" fill="#1e1e1e" stroke="#1e1e1e" stroke-width="0.2" >6:53am</text>
<polygon points="290.67,467.70 292.37,472.25 297.23,472.47 293.43,475.50 294.73,480.18 290.67,477.50 286.61,480.18 287.91,475.50 284.11,472.47 288.96,472.25" fill="#8E6A14" stroke="#7A5A12" stroke-width="0.4"/>
<circle cx="290.67" cy="474.60" r="4.2" fill="#E2E040" stroke="#D89030" stroke-width="0.9"/>
<text transform="translate(297.67,478.20) scale(1.03,1)" text-anchor="start" font-size="9.0" font-weight="normal" fill="#1e1e1e" stroke="#1e1e1e" stroke-width="0.2" >6:53am</text>
<polygon points="367.32,467.70 369.03,472.25 373.88,472.47 370.08,475.50 371.38,480.18 367.32,477.50 363.27,480.18 364.56,475.50 360.76,472.47 365.62,472.25" fill="#8E6A14" stroke="#7A5A12" stroke-width="0.4"/>
<circle cx="367.32" cy="474.60" r="4.2" fill="#E2E040" stroke="#D89030" stroke-width="0.9"/>
<text transform="translate(374.32,478.20) scale(1.03,1)" text-anchor="start" font-size="9.0" font-weight="normal" fill="#1e1e1e" stroke="#1e1e1e" stroke-width="0.2" >6:54am</text>
<polygon points="443.98,467.70 445.68,472.25 450.54,472.47 446.73,475.50 448.03,480.18 443.98,477.50 439.92,480.18 441.22,475.50 437.41,472.47 442.27,472.25" fill="#8E6A14" stroke="#7A5A12" stroke-width="0.4"/>
<circle cx="443.98" cy="474.60" r="4.2" fill="#E2E040" stroke="#D89030" stroke-width="0.9"/>
<text transform="translate(450.98,478.20) scale(1.03,1)" text-anchor="start" font-size="9.0" font-weight="normal" fill="#1e1e1e" stroke="#1e1e1e" stroke-width="0.2" >6:55am</text>
<polygon points="520.63,467.70 522.33,472.25 527.19,472.47 523.39,475.50 524.68,480.18 520.63,477.50 516.57,480.18 517.87,475.50 514.07,472.47 518.92,472.25" fill="#8E6A14" stroke="#7A5A12" stroke-width="0.4"/>
<circle cx="520.63" cy="474.60" r="4.2" fill="#E2E040" stroke="#D89030" stroke-width="0.9"/>
<text transform="translate(527.63,478.20) scale(1.03,1)" text-anchor="start" font-size="9.0" font-weight="normal" fill="#1e1e1e" stroke="#1e1e1e" stroke-width="0.2" >6:56am</text>
<polygon points="597.23,467.70 598.93,472.25 603.79,472.47 599.99,475.50 601.28,480.18 597.23,477.50 593.17,480.18 594.47,475.50 590.67,472.47 595.52,472.25" fill="#8E6A14" stroke="#7A5A12" stroke-width="0.4"/>
<circle cx="597.23" cy="474.60" r="4.2" fill="#E2E040" stroke="#D89030" stroke-width="0.9"/>
<text transform="translate(604.23,478.20) scale(1.03,1)" text-anchor="start" font-size="9.0" font-weight="normal" fill="#1e1e1e" stroke="#1e1e1e" stroke-width="0.2" >6:56am</text>
<polygon points="673.88,467.70 675.59,472.25 680.44,472.47 676.64,475.50 677.94,480.18 673.88,477.50 669.83,480.18 671.12,475.50 667.32,472.47 672.18,472.25" fill="#8E6A14" stroke="#7A5A12" stroke-width="0.4"/>
<circle cx="673.88" cy="474.60" r="4.2" fill="#E2E040" stroke="#D89030" stroke-width="0.9"/>
<text transform="translate(680.88,478.20) scale(1.03,1)" text-anchor="start" font-size="9.0" font-weight="normal" fill="#1e1e1e" stroke="#1e1e1e" stroke-width="0.2" >6:57am</text>
<polygon points="99.22,481.40 100.93,485.95 105.78,486.17 101.98,489.20 103.28,493.88 99.22,491.20 95.17,493.88 96.46,489.20 92.66,486.17 97.52,485.95" fill="#8E6A14" stroke="#7A5A12" stroke-width="0.4"/>
<circle cx="99.22" cy="488.30" r="4.2" fill="#E04828" stroke="#8A5A20" stroke-width="0.9"/>
<text transform="translate(106.22,492.50) scale(1.03,1)" text-anchor="start" font-size="9.0" font-weight="normal" fill="#1e1e1e" stroke="#1e1e1e" stroke-width="0.2" >6:54pm</text>
<polygon points="175.72,481.40 177.42,485.95 182.28,486.17 178.47,489.20 179.77,493.88 175.72,491.20 171.66,493.88 172.96,489.20 169.15,486.17 174.01,485.95" fill="#8E6A14" stroke="#7A5A12" stroke-width="0.4"/>
<circle cx="175.72" cy="488.30" r="4.2" fill="#E04828" stroke="#8A5A20" stroke-width="0.9"/>
<text transform="translate(182.72,492.50) scale(1.03,1)" text-anchor="start" font-size="9.0" font-weight="normal" fill="#1e1e1e" stroke="#1e1e1e" stroke-width="0.2" >6:52pm</text>
<polygon points="252.26,481.40 253.97,485.95 258.83,486.17 255.02,489.20 256.32,493.88 252.26,491.20 248.21,493.88 249.50,489.20 245.70,486.17 250.56,485.95" fill="#8E6A14" stroke="#7A5A12" stroke-width="0.4"/>
<circle cx="252.26" cy="488.30" r="4.2" fill="#E04828" stroke="#8A5A20" stroke-width="0.9"/>
<text transform="translate(259.26,492.50) scale(1.03,1)" text-anchor="start" font-size="9.0" font-weight="normal" fill="#1e1e1e" stroke="#1e1e1e" stroke-width="0.2" >6:51pm</text>
<polygon points="328.76,481.40 330.46,485.95 335.32,486.17 331.51,489.20 332.81,493.88 328.76,491.20 324.70,493.88 326.00,489.20 322.19,486.17 327.05,485.95" fill="#8E6A14" stroke="#7A5A12" stroke-width="0.4"/>
<circle cx="328.76" cy="488.30" r="4.2" fill="#E04828" stroke="#8A5A20" stroke-width="0.9"/>
<text transform="translate(335.76,492.50) scale(1.03,1)" text-anchor="start" font-size="9.0" font-weight="normal" fill="#1e1e1e" stroke="#1e1e1e" stroke-width="0.2" >6:49pm</text>
<polygon points="405.30,481.40 407.01,485.95 411.87,486.17 408.06,489.20 409.36,493.88 405.30,491.20 401.25,493.88 402.55,489.20 398.74,486.17 403.60,485.95" fill="#8E6A14" stroke="#7A5A12" stroke-width="0.4"/>
<circle cx="405.30" cy="488.30" r="4.2" fill="#E04828" stroke="#8A5A20" stroke-width="0.9"/>
<text transform="translate(412.30,492.50) scale(1.03,1)" text-anchor="start" font-size="9.0" font-weight="normal" fill="#1e1e1e" stroke="#1e1e1e" stroke-width="0.2" >6:48pm</text>
<polygon points="481.85,481.40 483.55,485.95 488.41,486.17 484.61,489.20 485.91,493.88 481.85,491.20 477.79,493.88 479.09,489.20 475.29,486.17 480.15,485.95" fill="#8E6A14" stroke="#7A5A12" stroke-width="0.4"/>
<circle cx="481.85" cy="488.30" r="4.2" fill="#E04828" stroke="#8A5A20" stroke-width="0.9"/>
<text transform="translate(488.85,492.50) scale(1.03,1)" text-anchor="start" font-size="9.0" font-weight="normal" fill="#1e1e1e" stroke="#1e1e1e" stroke-width="0.2" >6:47pm</text>
<polygon points="558.34,481.40 560.05,485.95 564.91,486.17 561.10,489.20 562.40,493.88 558.34,491.20 554.29,493.88 555.59,489.20 551.78,486.17 556.64,485.95" fill="#8E6A14" stroke="#7A5A12" stroke-width="0.4"/>
<circle cx="558.34" cy="488.30" r="4.2" fill="#E04828" stroke="#8A5A20" stroke-width="0.9"/>
<text transform="translate(565.34,492.50) scale(1.03,1)" text-anchor="start" font-size="9.0" font-weight="normal" fill="#1e1e1e" stroke="#1e1e1e" stroke-width="0.2" >6:45pm</text>
<polygon points="634.89,481.40 636.60,485.95 641.45,486.17 637.65,489.20 638.95,493.88 634.89,491.20 630.83,493.88 632.13,489.20 628.33,486.17 633.19,485.95" fill="#8E6A14" stroke="#7A5A12" stroke-width="0.4"/>
<circle cx="634.89" cy="488.30" r="4.2" fill="#E04828" stroke="#8A5A20" stroke-width="0.9"/>
<text transform="translate(641.89,492.50) scale(1.03,1)" text-anchor="start" font-size="9.0" font-weight="normal" fill="#1e1e1e" stroke="#1e1e1e" stroke-width="0.2" >6:44pm</text>
<circle cx="151.09" cy="501.90" r="5.0" fill="#FFFFCC" stroke="#807c70" stroke-width="1.1"/>
<text transform="translate(158.29,506.00) scale(1.03,1)" text-anchor="start" font-size="9.0" font-weight="normal" fill="#1e1e1e" stroke="#1e1e1e" stroke-width="0.2" >11:09am</text>
<circle cx="230.88" cy="501.90" r="5.0" fill="#FFFFCC" stroke="#807c70" stroke-width="1.1"/>
<text transform="translate(238.08,506.00) scale(1.03,1)" text-anchor="start" font-size="9.0" font-weight="normal" fill="#1e1e1e" stroke="#1e1e1e" stroke-width="0.2" >12:09pm</text>
<circle cx="310.40" cy="501.90" r="5.0" fill="#FFFFCC" stroke="#807c70" stroke-width="1.1"/>
<text transform="translate(317.60,506.00) scale(1.03,1)" text-anchor="start" font-size="9.0" font-weight="normal" fill="#1e1e1e" stroke="#1e1e1e" stroke-width="0.2" >1:04pm</text>
<circle cx="389.66" cy="501.90" r="5.0" fill="#FFFFCC" stroke="#807c70" stroke-width="1.1"/>
<text transform="translate(396.86,506.00) scale(1.03,1)" text-anchor="start" font-size="9.0" font-weight="normal" fill="#1e1e1e" stroke="#1e1e1e" stroke-width="0.2" >1:54pm</text>
<circle cx="468.66" cy="501.90" r="5.0" fill="#FFFFCC" stroke="#807c70" stroke-width="1.1"/>
<text transform="translate(475.86,506.00) scale(1.03,1)" text-anchor="start" font-size="9.0" font-weight="normal" fill="#1e1e1e" stroke="#1e1e1e" stroke-width="0.2" >2:39pm</text>
<circle cx="547.44" cy="501.90" r="5.0" fill="#FFFFCC" stroke="#807c70" stroke-width="1.1"/>
<text transform="translate(554.64,506.00) scale(1.03,1)" text-anchor="start" font-size="9.0" font-weight="normal" fill="#1e1e1e" stroke="#1e1e1e" stroke-width="0.2" >3:20pm</text>
<circle cx="626.01" cy="501.90" r="5.0" fill="#FFFFCC" stroke="#807c70" stroke-width="1.1"/>
<text transform="translate(633.21,506.00) scale(1.03,1)" text-anchor="start" font-size="9.0" font-weight="normal" fill="#1e1e1e" stroke="#1e1e1e" stroke-width="0.2" >3:57pm</text>
<circle cx="106.62" cy="515.50" r="5.0" fill="#C8C8B2" stroke="#787870" stroke-width="1.1"/>
<text transform="translate(113.82,519.70) scale(1.03,1)" text-anchor="start" font-size="9.0" font-weight="normal" fill="#1e1e1e" stroke="#1e1e1e" stroke-width="0.2" >9:13pm</text>
<circle cx="185.77" cy="515.50" r="5.0" fill="#C8C8B2" stroke="#787870" stroke-width="1.1"/>
<text transform="translate(192.97,519.70) scale(1.03,1)" text-anchor="start" font-size="9.0" font-weight="normal" fill="#1e1e1e" stroke="#1e1e1e" stroke-width="0.2" >10:01pm</text>
<circle cx="265.03" cy="515.50" r="5.0" fill="#C8C8B2" stroke="#787870" stroke-width="1.1"/>
<text transform="translate(272.23,519.70) scale(1.03,1)" text-anchor="start" font-size="9.0" font-weight="normal" fill="#1e1e1e" stroke="#1e1e1e" stroke-width="0.2" >10:51pm</text>
<circle cx="344.34" cy="515.50" r="5.0" fill="#C8C8B2" stroke="#787870" stroke-width="1.1"/>
<text transform="translate(351.54,519.70) scale(1.03,1)" text-anchor="start" font-size="9.0" font-weight="normal" fill="#1e1e1e" stroke="#1e1e1e" stroke-width="0.2" >11:42pm</text>
<circle cx="423.76" cy="515.50" r="5.0" fill="#C8C8B2" stroke="#787870" stroke-width="1.1"/>
<text transform="translate(430.96,519.70) scale(1.03,1)" text-anchor="start" font-size="9.0" font-weight="normal" fill="#1e1e1e" stroke="#1e1e1e" stroke-width="0.2" >12:35am</text>
<circle cx="503.23" cy="515.50" r="5.0" fill="#C8C8B2" stroke="#787870" stroke-width="1.1"/>
<text transform="translate(510.43,519.70) scale(1.03,1)" text-anchor="start" font-size="9.0" font-weight="normal" fill="#1e1e1e" stroke="#1e1e1e" stroke-width="0.2" >1:29am</text>
<circle cx="582.65" cy="515.50" r="5.0" fill="#C8C8B2" stroke="#787870" stroke-width="1.1"/>
<text transform="translate(589.85,519.70) scale(1.03,1)" text-anchor="start" font-size="9.0" font-weight="normal" fill="#1e1e1e" stroke="#1e1e1e" stroke-width="0.2" >2:22am</text>
<circle cx="662.07" cy="515.50" r="5.0" fill="#C8C8B2" stroke="#787870" stroke-width="1.1"/>
<text transform="translate(669.27,519.70) scale(1.03,1)" text-anchor="start" font-size="9.0" font-weight="normal" fill="#1e1e1e" stroke="#1e1e1e" stroke-width="0.2" >3:15am</text>
<text transform="translate(365.50,532.60) scale(1.1,1)" text-anchor="middle" font-size="8.5" font-weight="normal" fill="#1e1e1e" stroke="#1e1e1e" stroke-width="0.2" >First Quarter | 9:43am</text>
</svg></body></html>
